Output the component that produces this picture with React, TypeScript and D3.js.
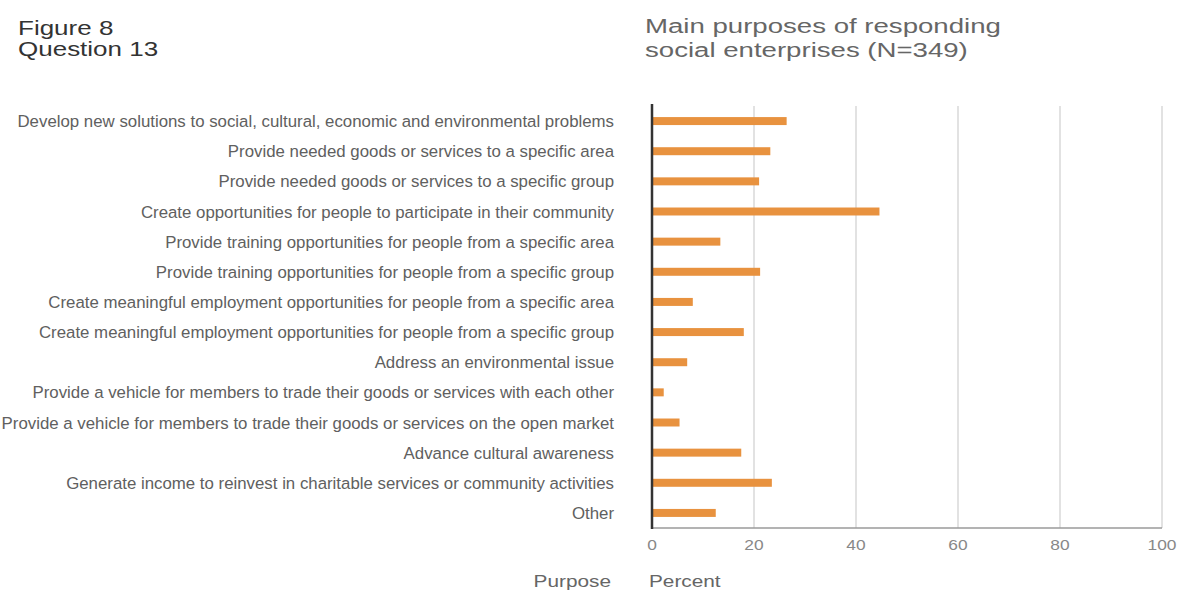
import React from "react";
import * as d3 from "d3";

// Survey question 13: main purposes of responding social enterprises
const purposes: string[] = [
  "Develop new solutions to social, cultural, economic and environmental problems",
  "Provide needed goods or services to a specific area",
  "Provide needed goods or services to a specific group",
  "Create opportunities for people to participate in their community",
  "Provide training opportunities for people from a specific area",
  "Provide training opportunities for people from a specific group",
  "Create meaningful employment opportunities for people from a specific area",
  "Create meaningful employment opportunities for people from a specific group",
  "Address an environmental issue",
  "Provide a vehicle for members to trade their goods or services with each other",
  "Provide a vehicle for members to trade their goods or services on the open market",
  "Advance cultural awareness",
  "Generate income to reinvest in charitable services or community activities",
  "Other",
];

const percents: number[] = [26.4, 23.2, 21.0, 44.6, 13.4, 21.2, 8.0, 18.0, 6.9, 2.3, 5.4, 17.5, 23.5, 12.5];

const xTicks: number[] = [0, 20, 40, 60, 80, 100];

const figureLines: string[] = ["Figure 8", "Question 13"];
const titleLines: string[] = ["Main purposes of responding", "social enterprises (N=349)"];
const categoryAxisLabel = "Purpose";
const valueAxisLabel = "Percent";

const W = 1187;
const H = 592;
const plot = { left: 652, right: 1162, top: 106, bottom: 528 };
const labelRight = 614;
const barColor = "#E8923F";
const FONT = "'Liberation Sans', Arial, Helvetica, sans-serif";

export default function App() {
  const x = d3.scaleLinear().domain([0, 100]).range([plot.left, plot.right]);
  const pi = 0.735;
  const y = d3
    .scaleBand<string>()
    .domain(purposes)
    .range([plot.top, plot.bottom])
    .paddingInner(pi)
    .paddingOuter(pi / 2);
  const bw = y.bandwidth();

  return (
    <svg
      width={W}
      height={H}
      style={{ position: "absolute", left: 0, top: 0, background: "#fff" }}
      fontFamily={FONT}
    >
      {/* figure number */}
      {figureLines.map((t, i) => (
        <g key={t} transform={`translate(18, ${35 + i * 21}) scale(1.3, 1)`}>
          <text fontSize={20} fill="#333">
            {t}
          </text>
        </g>
      ))}
      {/* chart title */}
      {titleLines.map((t, i) => (
        <g key={t} transform={`translate(645, ${33 + i * 24}) scale(1.38, 1)`}>
          <text fontSize={20} fill="#666">
            {t}
          </text>
        </g>
      ))}

      {/* vertical gridlines */}
      {xTicks
        .filter((t) => t > 0)
        .map((t) => (
          <line
            key={t}
            x1={x(t)}
            x2={x(t)}
            y1={plot.top}
            y2={plot.bottom}
            stroke="#e2e2e2"
            strokeWidth={2}
          />
        ))}
      {/* bottom axis line */}
      <line x1={x(0)} x2={x(100)} y1={plot.bottom} y2={plot.bottom} stroke="#9a9a9a" strokeWidth={1.5} />

      {/* bars */}
      {purposes.map((p, i) => (
        <rect
          key={p}
          x={x(0)}
          y={y(p)!}
          width={x(percents[i]) - x(0)}
          height={bw}
          fill={barColor}
        />
      ))}

      {/* zero axis */}
      <line x1={x(0)} x2={x(0)} y1={plot.top - 2} y2={plot.bottom + 1} stroke="#333" strokeWidth={2.5} />

      {/* category labels */}
      {purposes.map((p) => (
        <g key={p} transform={`translate(${labelRight}, ${y(p)! + bw / 2 + 6}) scale(0.99, 1)`}>
          <text fontSize={17} fill="#606060" textAnchor="end">
            {p}
          </text>
        </g>
      ))}

      {/* tick labels */}
      {xTicks.map((t) => (
        <g key={t} transform={`translate(${x(t)}, 550) scale(1.24, 1)`}>
          <text fontSize={14} fill="#888" textAnchor="middle">
            {t}
          </text>
        </g>
      ))}

      {/* axis titles */}
      <g transform={`translate(611, 587) scale(1.3, 1)`}>
        <text fontSize={16} fill="#666" textAnchor="end">
          {categoryAxisLabel}
        </text>
      </g>
      <g transform={`translate(649, 587) scale(1.3, 1)`}>
        <text fontSize={16} fill="#666">
          {valueAxisLabel}
        </text>
      </g>
    </svg>
  );
}
